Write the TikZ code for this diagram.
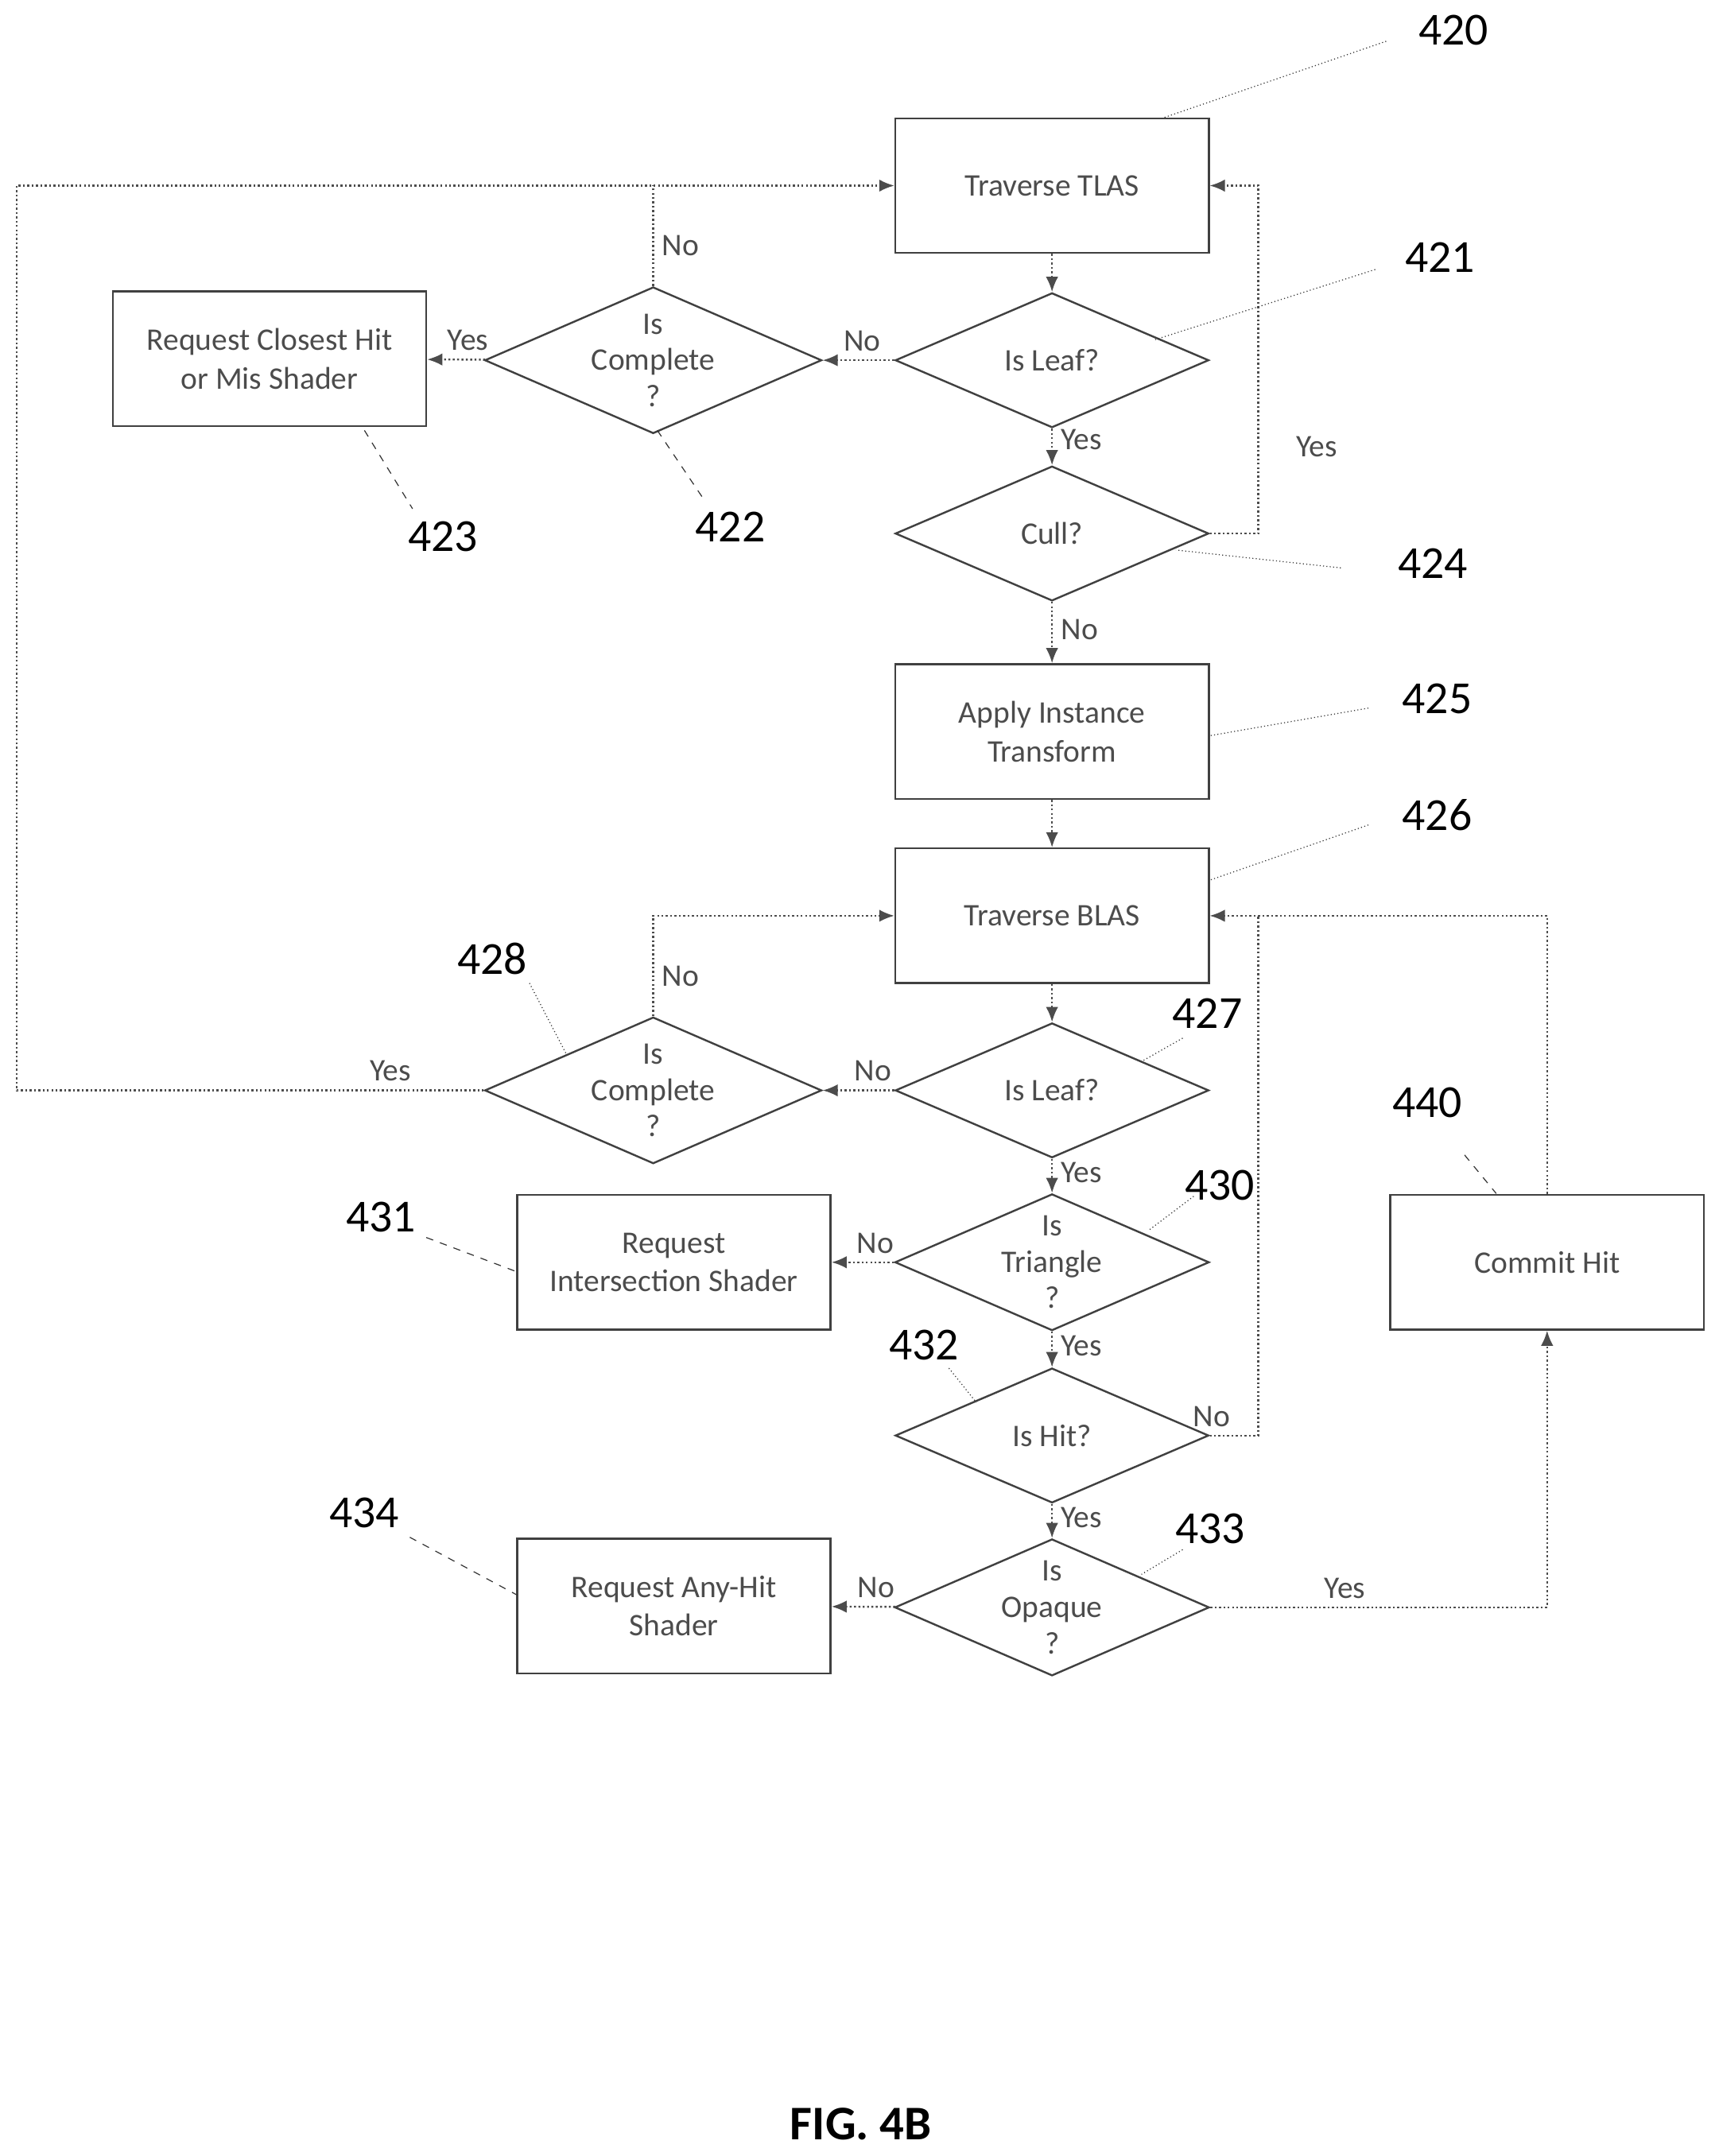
\documentclass[tikz,border=0pt]{standalone}
\usepackage{fontspec}
\setmainfont{Carlito}
\usetikzlibrary{shapes.geometric,arrows.meta}

\tikzset{
	proc/.style={draw=black!75,thick,minimum width=4.56cm,minimum height=1.96cm,inner sep=0pt,align=center,text=black!70,font=\fontsize{13}{16}\selectfont},
	test/.style={draw=black!75,thick,diamond,aspect=2.3,minimum width=4.56cm,minimum height=1.96cm,inner sep=0pt,align=center,text=black!70,font=\fontsize{13}{15}\selectfont},
	flow/.style={densely dotted,black!70,thick,-{Latex[length=2.2mm,width=1.8mm]}},
	line/.style={densely dotted,black!70,thick},
	ans/.style={text=black!70,font=\fontsize{13}{15}\selectfont},
	refnum/.style={font=\fontsize{19}{22}\selectfont},
	lead/.style={densely dotted,black!80},
	leadd/.style={dashed,black!80}
}

\begin{document}
\begin{tikzpicture}[x=0.02cm,y=-0.02cm]
	\useasboundingbox (0,0) rectangle (1250,1568);
	%boxes and tests
	\node[proc] (tlas) at (765,135) {Traverse TLAS};
	\node[test] (leaf1) at (765,262) {Is Leaf?};
	\node[test] (comp1) at (475,262) {Is\\Complete\\?};
	\node[proc] (closest) at (196,261) {Request Closest Hit\\or Mis Shader};
	\node[test] (cull) at (765,388) {Cull?};
	\node[proc] (inst) at (765,532) {Apply Instance\\Transform};
	\node[proc] (blas) at (765,666) {Traverse BLAS};
	\node[test] (leaf2) at (765,793) {Is Leaf?};
	\node[test] (comp2) at (475,793) {Is\\Complete\\?};
	\node[test] (tri) at (765,918) {Is\\Triangle\\?};
	\node[proc] (isect) at (490,918) {Request\\Intersection Shader};
	\node[proc] (commit) at (1125,918) {Commit Hit};
	\node[test] (hit) at (765,1044) {Is Hit?};
	\node[test] (opaque) at (765,1169) {Is\\Opaque\\?};
	\node[proc] (anyhit) at (490,1168) {Request Any-Hit\\Shader};
	\coordinate (c1) at (12,135);
	\coordinate (c2) at (12,793);
	\coordinate (c3) at (915,388);
	\coordinate (c4) at (915,135);
	\coordinate (c5) at (915,1044);
	\coordinate (c6) at (915,666);
	\coordinate (c7) at (1125,666);
	\coordinate (c8) at (1125,1169);
	%connectors
	\draw[flow] (tlas) -- (leaf1);
	\draw[flow] (leaf1) -- node[ans,above,pos=0.45]{No} (comp1);
	\draw[flow] (comp1) -- node[ans,above,pos=0.3]{Yes} (closest);
	\draw[line] (comp1.north) -- node[ans,right,pos=0.4]{No} (comp1.north |- tlas.west);
	\draw[flow] (comp2.west) -- node[ans,above,pos=0.2]{Yes} (c2) -- (c1) -- (tlas.west);
	\draw[flow] (leaf1) -- node[ans,right,pos=0.3]{Yes} (cull);
	\draw[flow] (cull.east) -- (c3) -- node[ans,right,pos=0.25,xshift=12]{Yes} (c4) -- (tlas.east);
	\draw[flow] (cull) -- node[ans,right,pos=0.45]{No} (inst);
	\draw[flow] (inst) -- (blas);
	\draw[flow] (blas) -- (leaf2);
	\draw[flow] (leaf2) -- node[ans,above,pos=0.3]{No} (comp2);
	\draw[flow] (comp2.north) -- node[ans,right,pos=0.4]{No} (comp2.north |- blas.west) -- (blas.west);
	\draw[flow] (leaf2) -- node[ans,right,pos=0.4]{Yes} (tri);
	\draw[flow] (tri) -- node[ans,above,pos=0.3]{No} (isect);
	\draw[flow] (tri) -- node[ans,right,pos=0.4]{Yes} (hit);
	\draw[line] (hit.east) -- node[ans,above left,pos=0.6]{No} (c5) -- (c6);
	\draw[flow] (commit.north) -- (c7) -- (blas.east);
	\draw[flow] (hit) -- node[ans,right,pos=0.4]{Yes} (opaque);
	\draw[flow] (opaque) -- node[ans,above,pos=0.3]{No} (anyhit);
	\draw[flow] (opaque.east) -- node[ans,above,pos=0.4]{Yes} (c8) -- (commit.south);
	%reference numbers
	\node[refnum] (n420) at (1057,22) {420};
	\node[refnum] (n421) at (1047,187) {421};
	\node[refnum] (n422) at (531,383) {422};
	\node[refnum] (n423) at (322,390) {423};
	\node[refnum] (n424) at (1042,410) {424};
	\node[refnum] (n425) at (1045,508) {425};
	\node[refnum] (n426) at (1045,593) {426};
	\node[refnum] (n427) at (878,737) {427};
	\node[refnum] (n428) at (358,697) {428};
	\node[refnum] (n430) at (887,862) {430};
	\node[refnum] (n431) at (277,885) {431};
	\node[refnum] (n432) at (672,978) {432};
	\node[refnum] (n433) at (880,1112) {433};
	\node[refnum] (n434) at (265,1100) {434};
	\node[refnum] (n440) at (1038,802) {440};
	\draw[lead] (1008,30) -- (845,86);
	\draw[lead] (1000,196) -- (840,247);
	\draw[leadd] (478,313) -- (513,365);
	\draw[leadd] (265,313) -- (300,370);
	\draw[lead] (975,413) -- (855,400);
	\draw[lead] (995,515) -- (880,535);
	\draw[lead] (995,600) -- (880,640);
	\draw[lead] (860,755) -- (830,772);
	\draw[lead] (385,715) -- (412,767);
	\draw[lead] (868,870) -- (835,895);
	\draw[leadd] (310,900) -- (376,925);
	\draw[lead] (690,995) -- (710,1020);
	\draw[lead] (860,1127) -- (830,1145);
	\draw[leadd] (298,1118) -- (376,1160);
	\draw[leadd] (1065,840) -- (1088,868);
	\node[font=\bfseries\fontsize{20}{24}\selectfont] (fig) at (626,1545) {FIG. 4B};
\end{tikzpicture}
\end{document}
